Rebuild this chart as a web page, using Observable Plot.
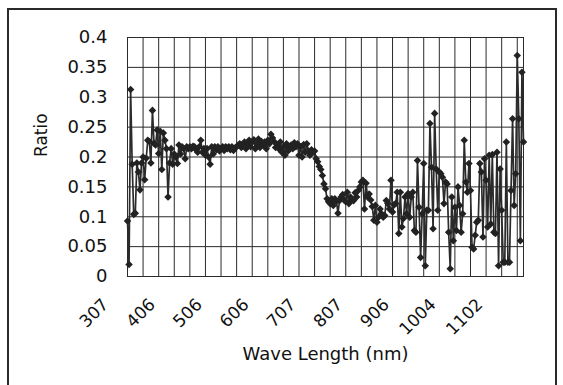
<!DOCTYPE html>
<html>
<head>
<meta charset="utf-8">
<script src="https://cdn.jsdelivr.net/npm/d3@7"></script>
<script src="https://cdn.jsdelivr.net/npm/@observablehq/plot@0.6"></script>
<style>
  html, body { margin: 0; padding: 0; background: #fff; }
  #wrap { position: relative; width: 563px; height: 385px; overflow: hidden; }
  #border { position: absolute; left: 7px; top: 8px; width: 550px; height: 400px; border: 2px solid #2a2a2a; box-sizing: border-box; }
  #chart { position: absolute; left: 0; top: 0; }
</style>
</head>
<body>
<div id="wrap"><div id="border"></div><div id="chart"></div></div>
<script>
// Ratio values, one per wavelength category
const ratio = [
  0.093, 0.020, 0.313, 0.188, 0.104, 0.106, 0.190, 0.175, 0.145, 0.190,
  0.200, 0.162, 0.198, 0.228, 0.226, 0.190, 0.278, 0.223, 0.220, 0.245,
  0.206, 0.243, 0.179, 0.240, 0.228, 0.214, 0.133, 0.190, 0.214, 0.188,
  0.205, 0.200, 0.189, 0.220, 0.205, 0.217, 0.214, 0.197, 0.217, 0.214,
  0.217, 0.214, 0.218, 0.217, 0.212, 0.208, 0.217, 0.228, 0.208, 0.214,
  0.203, 0.214, 0.200, 0.188, 0.217, 0.205, 0.217, 0.212, 0.217, 0.210,
  0.214, 0.217, 0.211, 0.217, 0.214, 0.217, 0.212, 0.217, 0.211, 0.215,
  0.217, 0.220, 0.222, 0.216, 0.221, 0.225, 0.214, 0.222, 0.228, 0.217,
  0.225, 0.229, 0.214, 0.222, 0.230, 0.216, 0.226, 0.220, 0.225, 0.214,
  0.228, 0.222, 0.238, 0.232, 0.226, 0.216, 0.221, 0.214, 0.225, 0.208,
  0.217, 0.203, 0.222, 0.210, 0.217, 0.220, 0.214, 0.224, 0.217, 0.222,
  0.203, 0.217, 0.200, 0.221, 0.208, 0.222, 0.210, 0.203, 0.212, 0.208,
  0.210, 0.197, 0.192, 0.184, 0.179, 0.169, 0.155, 0.147, 0.130, 0.125,
  0.122, 0.130, 0.119, 0.130, 0.126, 0.106, 0.127, 0.133, 0.137, 0.128,
  0.125, 0.141, 0.122, 0.133, 0.128, 0.127, 0.140, 0.133, 0.144, 0.150,
  0.158, 0.161, 0.113, 0.156, 0.133, 0.138, 0.128, 0.117, 0.094, 0.119,
  0.091, 0.099, 0.113, 0.105, 0.099, 0.102, 0.127, 0.122, 0.113, 0.161,
  0.108, 0.120, 0.122, 0.141, 0.072, 0.141, 0.083, 0.097, 0.133, 0.105,
  0.139, 0.099, 0.133, 0.141, 0.077, 0.074, 0.194, 0.116, 0.032, 0.105,
  0.189, 0.018, 0.111, 0.111, 0.256, 0.183, 0.080, 0.273, 0.180, 0.111,
  0.175, 0.172, 0.166, 0.122, 0.158, 0.155, 0.074, 0.013, 0.133, 0.060,
  0.116, 0.077, 0.150, 0.119, 0.074, 0.105, 0.228, 0.158, 0.141, 0.189,
  0.144, 0.049, 0.046, 0.069, 0.091, 0.094, 0.189, 0.175, 0.066, 0.197,
  0.161, 0.083, 0.203, 0.088, 0.204, 0.074, 0.072, 0.208, 0.018, 0.180,
  0.111, 0.024, 0.024, 0.225, 0.024, 0.024, 0.144, 0.264, 0.119, 0.172,
  0.370, 0.264, 0.060, 0.342, 0.225
];
// Category positions of the labelled wavelengths, and their labels
const labelIndex = [0, 30, 60, 90, 120, 150, 180, 210, 240];
const labelText = ["307", "406", "506", "606", "707", "807", "906", "1004", "1102"];
// Vertical gridline every 10 categories
const gridIndex = [0, 10, 20, 30, 40, 50, 60, 70, 80, 90, 100, 110, 120, 130, 140, 150, 160, 170, 180, 190, 200, 210, 220, 230, 240, 250];
const yTicks = [0, 0.05, 0.1, 0.15, 0.2, 0.25, 0.3, 0.35, 0.4];
const yLabels = ["0", "0.05", "0.1", "0.15", "0.2", "0.25", "0.3", "0.35", "0.4"];

const data = ratio.map((v, i) => ({i, v}));
const labels = labelIndex.map((idx, k) => ({idx, t: labelText[k]}));
const ylab = yTicks.map((y, k) => ({y, t: yLabels[k]}));

const chart = Plot.plot({
  width: 563,
  height: 385,
  marginLeft: 127,
  marginRight: 40,
  marginTop: 37,
  marginBottom: 109,
  x: {domain: [0, ratio.length - 1], axis: null},
  y: {domain: [0, 0.4], axis: null},
  style: {fontFamily: "'DejaVu Sans', sans-serif", background: "transparent", color: "#111"},
  marks: [
    Plot.ruleY(yTicks, {stroke: "#2a2a2a", strokeWidth: 1}),
    Plot.ruleX(gridIndex, {stroke: "#2a2a2a", strokeWidth: 1}),
    Plot.frame({stroke: "#2a2a2a", strokeWidth: 1}),
    Plot.line(data, {x: "i", y: "v", stroke: "#2b2b2b", strokeWidth: 1.7}),
    Plot.dot(data, {x: "i", y: "v", symbol: "diamond2", r: 3.4, fill: "#222", stroke: "none"}),
    Plot.text(ylab, {y: "y", text: "t", frameAnchor: "left", textAnchor: "end", dx: -20, fontSize: 18, fill: "#111"}),
    Plot.text(labels, {x: "idx", text: "t", frameAnchor: "bottom", rotate: -45, textAnchor: "end", dx: -18, dy: 29, fontSize: 17, fill: "#111"}),
    Plot.text(["Wave Length (nm)"], {text: d => d, frameAnchor: "bottom", dy: 83, fontSize: 18, fill: "#111", letterSpacing: "1.8px"}),
    Plot.text(["Ratio"], {text: d => d, frameAnchor: "left", rotate: -90, dx: -86, fontSize: 17, fill: "#111"})
  ]
});
document.getElementById("chart").appendChild(chart);
</script>
</body>
</html>
